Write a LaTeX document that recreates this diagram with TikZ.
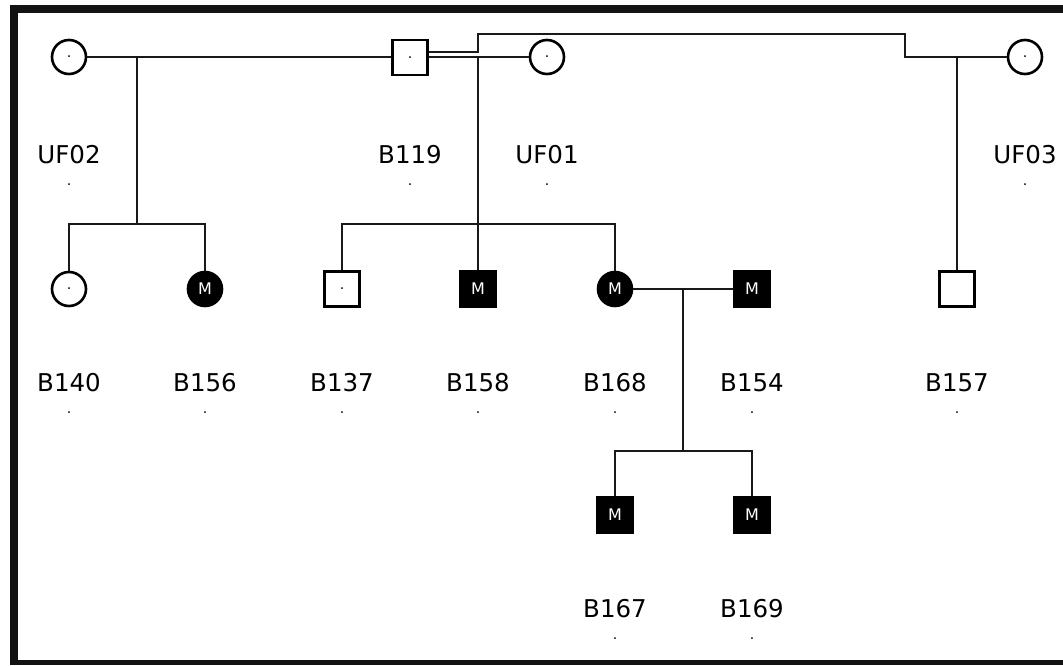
\documentclass[tikz,border=0pt]{standalone}
\usepackage{fontspec}
\setmainfont{DejaVu Sans}
\begin{document}
\begin{tikzpicture}[x=1pt,y=-1pt,
  line width=2.6pt,
  female/.style={circle,draw=black,fill=white,minimum size=34pt,inner sep=0pt},
  male/.style={rectangle,draw=black,fill=white,minimum size=35pt,inner sep=0pt},
  affected/.style={fill=black,text=white,font=\fontsize{16}{16}\selectfont},
  plain/.style={font=\fontsize{14}{14}\selectfont},
  idlabel/.style={font=\fontsize{24.5}{26}\selectfont,inner sep=0pt},
  dotmark/.style={font=\fontsize{14}{14}\selectfont,inner sep=0pt},
  link/.style={line width=2.6pt,draw=black!90}]
\useasboundingbox (0,0) rectangle (1063,665);
\fill[white] (0,0) rectangle (1063,665);
% frame bars
\fill[black!93] (10,5) rectangle (18,665);
\fill[black!93] (10,5) rectangle (1063,13);
\fill[black!93] (10,659.5) rectangle (1063,665);

% generation I
\node[female,plain] (UF02) at (69,57) {.};
\node[male,plain]   (B119) at (410,57.5) {.};
\node[female,plain] (UF01) at (547,57) {.};
\node[female,plain] (UF03) at (1025,57) {.};

% generation II
\node[female,plain] (B140) at (69,289) {.};
\node[female,affected] (B156) at (205,289) {M};
\node[male,plain] (B137) at (342,289) {.};
\node[male,affected] (B158) at (478,289) {M};
\node[female,affected] (B168) at (615,289) {M};
\node[male,affected] (B154) at (752,289) {M};
\node[male] (B157) at (957,289) {};

% generation III
\node[male,affected] (B167) at (615,515) {M};
\node[male,affected] (B169) at (752,515) {M};

% identifiers
\foreach \n/\x/\y in {UF02/69/155,B119/410/155,UF01/547/155,UF03/1025/155,
  B140/69/383,B156/205/383,B137/342/383,B158/478/383,B168/615/383,B154/752/383,B157/957/383,
  B167/615/609,B169/752/609}{
  \node[idlabel] (lab\n) at (\x,\y) {\n};
  \node[dotmark] (dot\n) at (\x,\y+30) {.};
}

% marriages
\coordinate (m1) at (137,57);
\coordinate (m2) at (478,57);
\coordinate (m3) at (957,57);
\coordinate (m4) at (683,289);
\draw[link] (UF02.east) -- (B119.west |- m1);
\draw[link] (B119.east |- m2) -- (UF01.west);
\draw[link] (B119.east |- 0,52) -- (478,52) -- (478,34) -- (905,34) -- (905,57) -- (UF03.west);
\draw[link] (B168.east) -- (B154.west);

% sibships
\draw[link] (m1) -- (137,224);
\draw[link] (B140.north) -- (69,224) -- (205,224) -- (B156.north);
\draw[link] (m2) -- (B158.north);
\draw[link] (B137.north) -- (342,224) -- (615,224) -- (B168.north);
\draw[link] (m3) -- (B157.north);
\draw[link] (m4) -- (683,451);
\draw[link] (B167.north) -- (615,451) -- (752,451) -- (B169.north);
\end{tikzpicture}
\end{document}
